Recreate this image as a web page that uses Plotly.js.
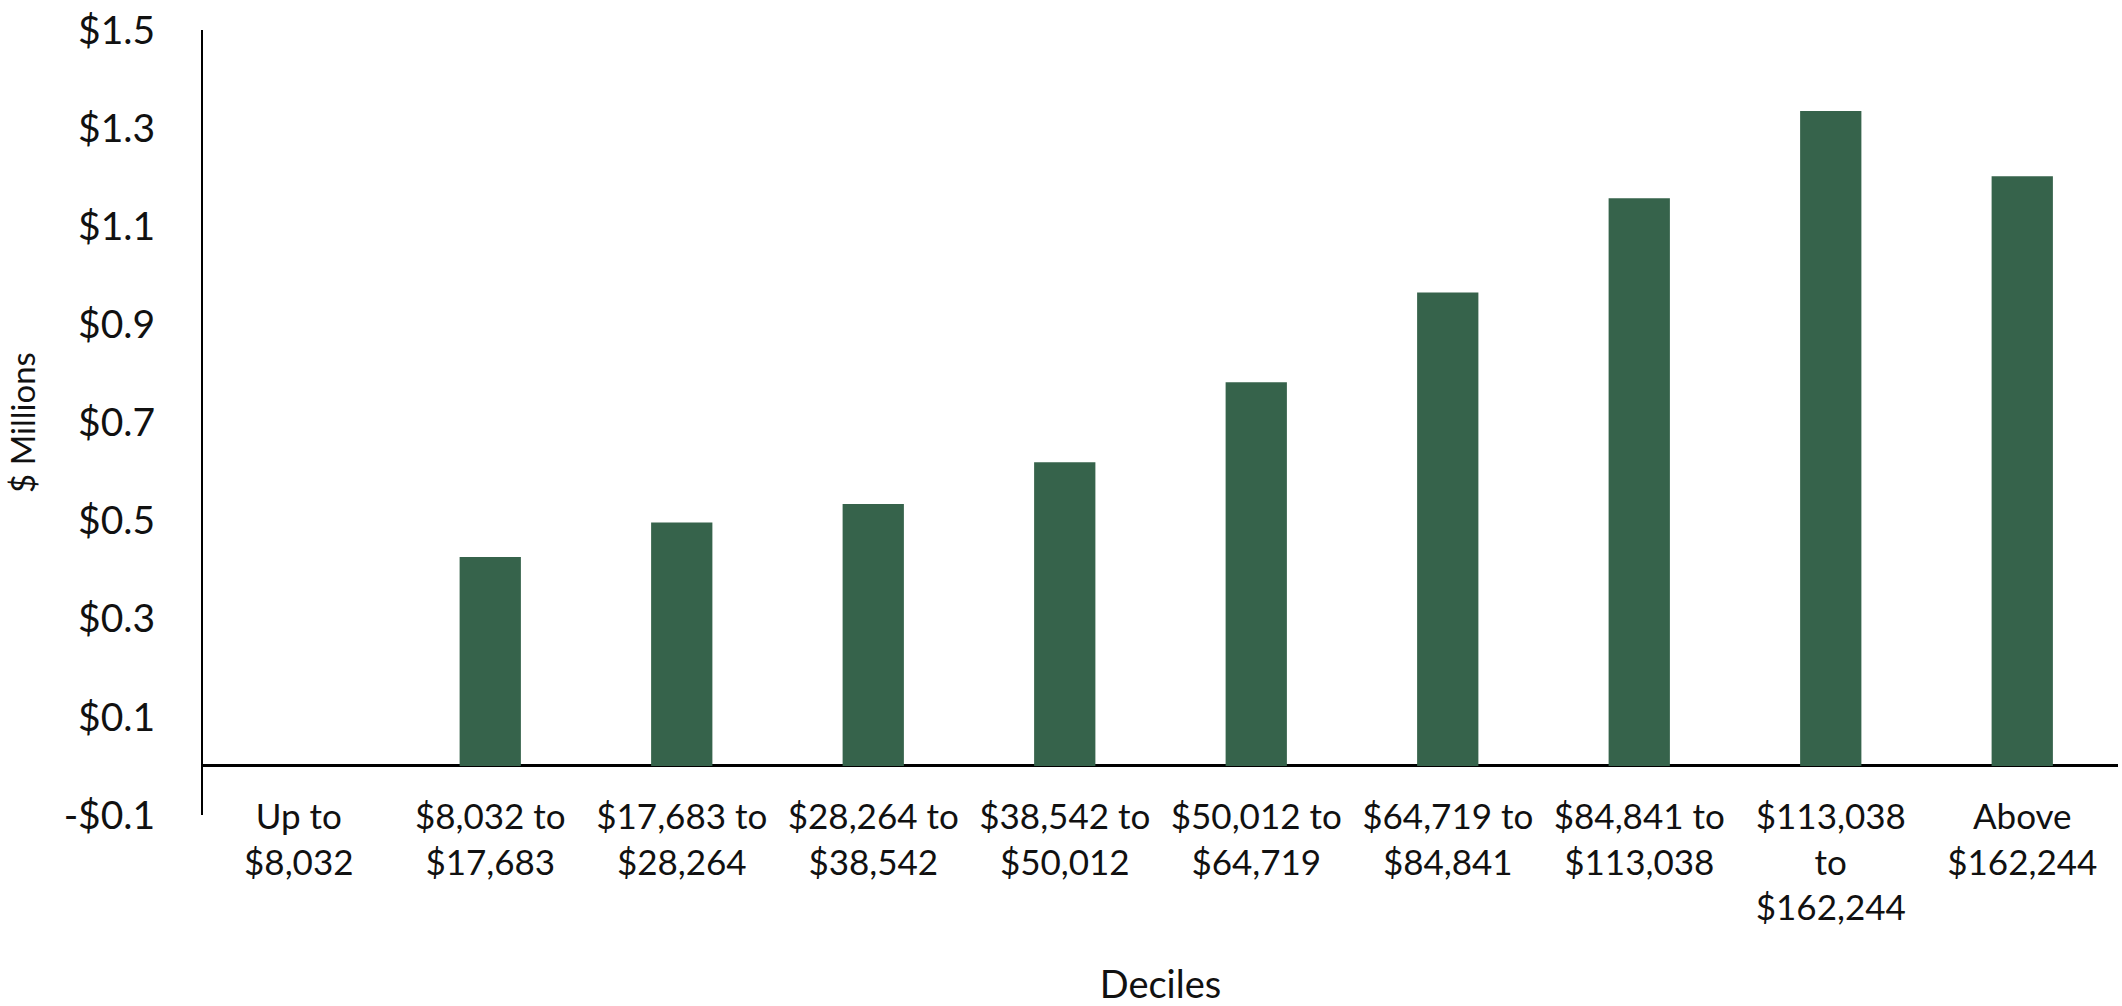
<!DOCTYPE html>
<html>
<head>
<meta charset="utf-8">
<script src="https://cdn.plot.ly/plotly-3.0.1.min.js"></script>
<style>
html,body{margin:0;padding:0;background:#fff;}
#chart{width:2122px;height:1006px;}
</style>
</head>
<body>
<div id="chart"></div>
<script>
var categories = [
  "Up to<br>$8,032",
  "$8,032 to<br>$17,683",
  "$17,683 to<br>$28,264",
  "$28,264 to<br>$38,542",
  "$38,542 to<br>$50,012",
  "$50,012 to<br>$64,719",
  "$64,719 to<br>$84,841",
  "$84,841 to<br>$113,038",
  "$113,038<br>to<br>$162,244",
  "Above<br>$162,244"
];
var values = [0, 0.426, 0.496, 0.534, 0.619, 0.782, 0.965, 1.157, 1.335, 1.202];
var yTickVals = [-0.1, 0.1, 0.3, 0.5, 0.7, 0.9, 1.1, 1.3, 1.5];
var yTickText = ["-$0.1", "$0.1", "$0.3", "$0.5", "$0.7", "$0.9", "$1.1", "$1.3", "$1.5"];

var FONT = "Lato, 'Open Sans', 'DejaVu Sans', sans-serif";

var trace = {
  type: "bar",
  x: categories,
  y: values,
  marker: {color: "#36634B", line: {width: 0}},
  hoverinfo: "x+y"
};

var layout = {
  width: 2122,
  height: 1006,
  paper_bgcolor: "#ffffff",
  plot_bgcolor: "#ffffff",
  margin: {l: 203, r: 4, t: 30, b: 191},
  bargap: 0.68,
  showlegend: false,
  font: {family: FONT, color: "#111111"},
  xaxis: {
    type: "category",
    showgrid: false,
    showline: false,
    zeroline: false,
    ticks: "",
    tickangle: 0,
    tickfont: {family: FONT, size: 35, color: "#111111"},
    ticklabelstandoff: -22,
    automargin: false,
    title: {text: "Deciles", font: {family: FONT, size: 38, color: "#111111"}, standoff: 51}
  },
  yaxis: {
    range: [-0.1, 1.5],
    showgrid: false,
    showline: true,
    linecolor: "#000000",
    linewidth: 2,
    zeroline: true,
    zerolinecolor: "#000000",
    zerolinewidth: 3,
    ticks: "",
    tickmode: "array",
    tickvals: yTickVals,
    ticktext: yTickText,
    tickfont: {family: FONT, size: 39, color: "#111111"},
    ticklabelstandoff: 38,
    automargin: false,
    title: {text: "$ Millions", font: {family: FONT, size: 33, color: "#111111"}, standoff: 18}
  }
};

Plotly.newPlot("chart", [trace], layout, {displayModeBar: false, staticPlot: true});
</script>
</body>
</html>
